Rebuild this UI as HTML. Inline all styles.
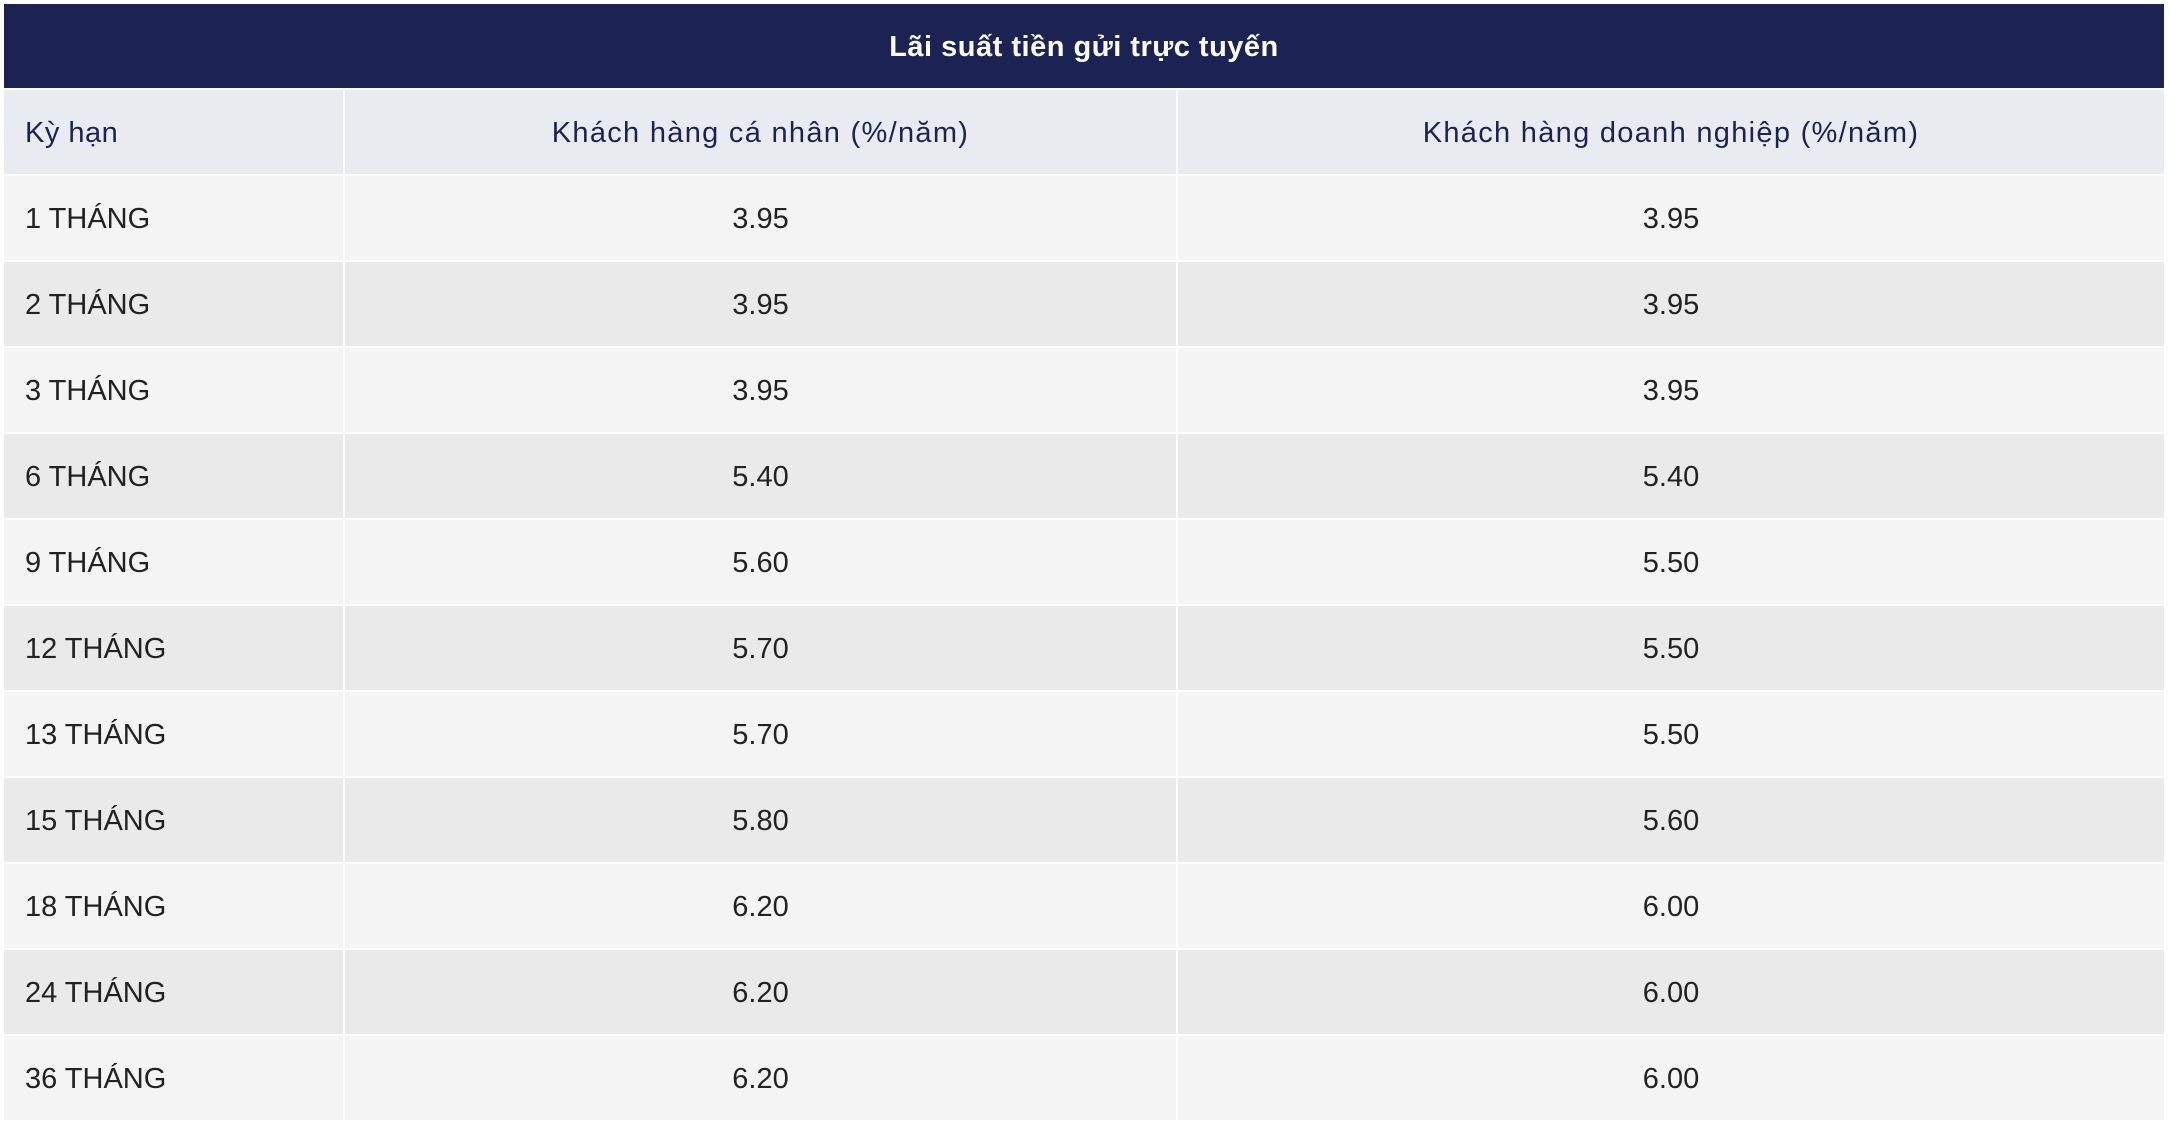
<!DOCTYPE html>
<html><head><meta charset="utf-8"><style>
html,body{margin:0;padding:0;background:#fff;width:2170px;height:1128px;overflow:hidden}
table{position:absolute;left:4px;top:4px;width:2160px;border-collapse:separate;border-spacing:0;font-family:"Liberation Sans",sans-serif;table-layout:fixed}
td,th{height:82px;padding:2px 0 0 0;border-bottom:2px solid #fff;font-size:29px;color:#222;text-align:center;font-weight:normal}
td+td,th+th{border-left:2px solid #fff}
.t{background:#1c2352;color:#fff;font-weight:bold;font-size:29px;letter-spacing:0.5px}
.h th{background:#e8ecf0;color:#1c2352;letter-spacing:1.3px}
td:first-child,.h th:first-child{text-align:left;padding-left:21px}
.h th:first-child{letter-spacing:0.5px}
tr.o td{background:#f4f4f4}
tr.e td{background:#eaeaea}
</style></head><body>
<table>
<col style="width:339px"><col style="width:833px"><col>
<tr><th class="t" colspan="3">Lãi suất tiền gửi trực tuyến</th></tr>
<tr class="h"><th>Kỳ hạn</th><th>Khách hàng cá nhân (%/năm)</th><th>Khách hàng doanh nghiệp (%/năm)</th></tr>
<tr class="o"><td>1 THÁNG</td><td>3.95</td><td>3.95</td></tr>
<tr class="e"><td>2 THÁNG</td><td>3.95</td><td>3.95</td></tr>
<tr class="o"><td>3 THÁNG</td><td>3.95</td><td>3.95</td></tr>
<tr class="e"><td>6 THÁNG</td><td>5.40</td><td>5.40</td></tr>
<tr class="o"><td>9 THÁNG</td><td>5.60</td><td>5.50</td></tr>
<tr class="e"><td>12 THÁNG</td><td>5.70</td><td>5.50</td></tr>
<tr class="o"><td>13 THÁNG</td><td>5.70</td><td>5.50</td></tr>
<tr class="e"><td>15 THÁNG</td><td>5.80</td><td>5.60</td></tr>
<tr class="o"><td>18 THÁNG</td><td>6.20</td><td>6.00</td></tr>
<tr class="e"><td>24 THÁNG</td><td>6.20</td><td>6.00</td></tr>
<tr class="o"><td>36 THÁNG</td><td>6.20</td><td>6.00</td></tr>
</table>
</body></html>
